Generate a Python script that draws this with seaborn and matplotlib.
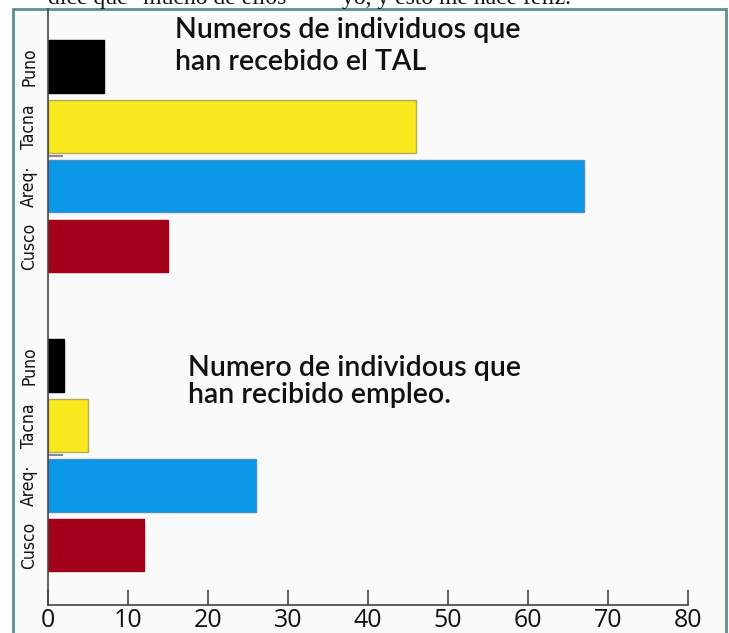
import matplotlib
matplotlib.use("Agg")
import matplotlib.pyplot as plt
import matplotlib.patches as mpatches
import seaborn as sns
import pandas as pd

# datos
regiones = ['Puno', 'Tacna', 'Areq·', 'Cusco']
tal = [7, 46, 67, 15]
empleo = [2, 5, 26, 12]
colores = ['#000000', '#f9e81e', '#0b97e8', '#a2001b']
bordes = ['#000000', '#b3aa5c', '#4f8fc0', '#a2001b']
xticks = [0, 10, 20, 30, 40, 50, 60, 70, 80]

W, H = 729, 633

sns.set_style("white")
plt.rcParams['font.family'] = ['DejaVu Sans']

# una tabla con las dos series, y un hueco entre grupos
claves_tal = ['TAL ' + r for r in regiones]
claves_emp = ['EMP ' + r for r in regiones]
df = pd.DataFrame({
    'slot': claves_tal + claves_emp,
    'valor': tal + empleo,
})
orden = claves_tal + ['hueco'] + claves_emp
paleta = dict(zip(claves_tal + claves_emp, colores + colores))

fig = plt.figure(figsize=(W / 100, H / 100), dpi=100)
fig.patch.set_facecolor('white')

# marco de la figura escaneada
marco = mpatches.Rectangle((13 / W, -0.05), (726 - 13) / W, 1.05 - 9 / H,
                           transform=fig.transFigure, facecolor='#fafafa',
                           edgecolor='#5f8f8f', linewidth=2, zorder=-5)
fig.patches.append(marco)

ax = fig.add_axes([48 / W, (H - 605) / H, (688 - 48) / W, (605 - 9) / H])
ax.set_facecolor('none')
ax.set_zorder(2)

sns.barplot(data=df, x='valor', y='slot', order=orden, hue='slot',
            palette=paleta, width=0.88, legend=False, ax=ax, saturation=1)

for p, ec in zip(ax.patches, bordes + bordes):
    p.set_edgecolor(ec)
    p.set_linewidth(1)

ax.set_xlim(0, 80)
ax.set_ylim(9.0, -0.96)
ax.set_xticks(xticks)
ax.set_xticklabels([str(t) for t in xticks], family='Open Sans', fontsize=18)
ax.tick_params(axis='x', bottom=True, direction='in', length=11, width=1.2,
               color='#444444', pad=2, labelcolor='#111111')

ax.set_yticks([0, 1, 2, 3, 5, 6, 7, 8])
ax.set_yticklabels(regiones + regiones, rotation=90, va='center',
                   fontsize=12.5, family='DejaVu Sans', color='#111111',
                   fontstretch='condensed')
ax.tick_params(axis='y', which='major', left=False, length=0, pad=7)
ax.set_yticks([1.5, 6.5], minor=True)
ax.tick_params(axis='y', which='minor', left=True, direction='in', length=11,
               width=1.5, color='#8a8a8a')

ax.set_xlabel(None)
ax.set_ylabel(None)
for s in ['top', 'right']:
    ax.spines[s].set_visible(False)
for s in ['left', 'bottom']:
    ax.spines[s].set_color('#444444')
    ax.spines[s].set_linewidth(1.2)


def px(x, y):
    return x / W, 1 - y / H


# textos del grafico
fig.text(*px(175, 38), 'Numeros de individuos que', family='Lato', fontsize=20.5,
         fontweight='semibold', color='#111111', va='baseline', zorder=3)
fig.text(*px(175, 70), 'han recebido el TAL', family='Lato', fontsize=20.5,
         fontweight='semibold', color='#111111', va='baseline', zorder=3)
fig.text(*px(188, 376), 'Numero de individous que', family='Lato', fontsize=20.5,
         fontweight='semibold', color='#111111', va='baseline', zorder=3)
fig.text(*px(188, 403), 'han recibido empleo.', family='Lato', fontsize=20.5,
         fontweight='semibold', color='#111111', va='baseline', zorder=3)

# linea del documento, cortada arriba
fig.text(*px(48, 4), 'dice que "mucho de ellos', family='Liberation Serif',
         fontsize=17, color='#111111', va='baseline')
fig.text(*px(342, 4), 'yo, y esto me hace feliz.', family='Liberation Serif',
         fontsize=17, color='#111111', va='baseline')

fig.savefig('out.png', dpi=100)
